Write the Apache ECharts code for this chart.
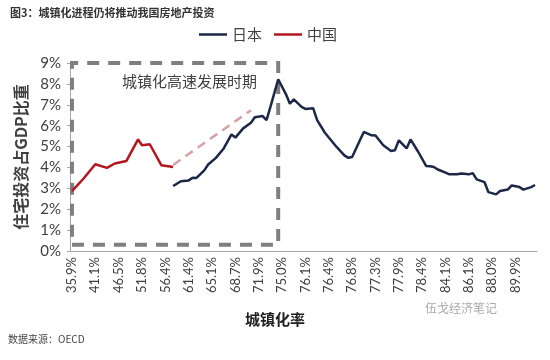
<!DOCTYPE html>
<html><head><meta charset="utf-8">
<script src="https://cdn.jsdelivr.net/npm/echarts@6/dist/echarts.min.js"></script>
<style>html,body{margin:0;padding:0;background:#fff}#c{width:550px;height:360px}</style>
</head><body><div id="c"></div>
<script>
// Tick labels shown on the category axis (every 6th category)
var tickLabels = ['35.9%','41.1%','46.5%','51.8%','56.4%','61.4%','65.1%','68.7%','71.9%','75.0%',
  '76.1%','76.4%','76.8%','77.3%','77.9%','78.4%','84.1%','86.1%','88.0%','89.9%'];
var categoryCount = 120;
var labelStep = 6;

// China: category index and housing investment share of GDP (%)
var chinaPos = [0,3,6,9,11,14,17,18,20,23,26];
var chinaVal = [2.87,3.47,4.15,3.98,4.19,4.31,5.34,5.06,5.11,4.10,4.02];

// Japan: category index and housing investment share of GDP (%)
var japanPos = [26,28,30,31,32,34,35,37,39,41,42,44,46,47,49,50,51,53,55,56,57,59,60,62,63,65,66,68,70,71,72,74,75,77,78,80,82,83,84,86,87,89,91,92,93,94,96,97,99,100,102,103,104,106,107,109,110,112,113,115,116,118,119];
var japanVal = [3.11,3.34,3.38,3.51,3.50,3.86,4.14,4.46,4.91,5.58,5.43,5.87,6.14,6.40,6.46,6.27,6.90,8.22,7.50,7.05,7.26,6.90,6.80,6.83,6.27,5.66,5.43,4.98,4.58,4.46,4.50,5.30,5.70,5.54,5.53,5.06,4.79,4.82,5.30,4.91,5.34,4.74,4.07,4.06,4.02,3.90,3.75,3.67,3.67,3.71,3.67,3.73,3.43,3.30,2.82,2.71,2.87,2.94,3.14,3.06,2.94,3.06,3.16];

// annotation box (category range and value range) and trend arrow
var boxX = [0, 53], boxY = [0.3, 9.15];
var trendStart = [26, 4.12], trendEnd = [46, 6.74];

var categories = [];
for (var i = 0; i < categoryCount; i++) {
  categories.push(i % labelStep === 0 ? tickLabels[i / labelStep] : '_' + i);
}
function pairs(p, v){ return p.map(function(x, k){ return [x, v[k]]; }); }

var chart = echarts.init(document.getElementById('c'));
var numFont = 'Lato, "Liberation Sans", sans-serif';
var cjk = '"Noto Sans CJK SC", sans-serif';
chart.setOption({
  animation: false,
  backgroundColor: '#fff',
  grid: {left: 70, right: 13, top: 63, bottom: 109},
  legend: {
    data: ['日本', '中国'], left: 194, top: 22, icon: 'rect', itemWidth: 28, itemHeight: 2.5, itemGap: 12,
    textStyle: {fontFamily: cjk, fontSize: 15, color: '#404040'}
  },
  xAxis: {
    type: 'category', data: categories, boundaryGap: true,
    axisLine: {lineStyle: {color: '#a6a6a6', width: 1}},
    axisTick: {interval: 0, length: 3, lineStyle: {color: '#a6a6a6'}},
    axisLabel: {interval: labelStep - 1, rotate: 90, fontFamily: numFont, fontSize: 13, color: '#404040', margin: 6,
      formatter: function(v){ return v.charAt(0) === '_' ? '' : v; }},
    splitLine: {show: false}
  },
  yAxis: {
    type: 'value', min: 0, max: 9, interval: 1,
    name: '住宅投资占GDP比重', nameLocation: 'middle', nameRotate: 90, nameGap: 35,
    nameTextStyle: {fontFamily: cjk, fontSize: 16, fontWeight: 'bold', color: '#404040'},
    axisLine: {show: true, lineStyle: {color: '#a6a6a6'}},
    axisTick: {show: true, length: 3, lineStyle: {color: '#a6a6a6'}},
    axisLabel: {formatter: '{value}%', fontFamily: numFont, fontSize: 15, color: '#404040', margin: 9},
    splitLine: {show: false}
  },
  series: [
    {
      name: '日本', type: 'line', data: pairs(japanPos, japanVal), connectNulls: true, showSymbol: false, clip: false,
      lineStyle: {color: '#1d2747', width: 2.5}, itemStyle: {color: '#1d2747'},
      markArea: {silent: true, itemStyle: {color: 'rgba(0,0,0,0)', borderColor: '#7f7f7f', borderWidth: 4, borderType: [12, 9]},
        data: [[{xAxis: boxX[0], yAxis: boxY[0]}, {xAxis: boxX[1], yAxis: boxY[1]}]]}
    },
    {
      name: '中国', type: 'line', data: pairs(chinaPos, chinaVal), connectNulls: true, showSymbol: false, clip: false,
      lineStyle: {color: '#b3161f', width: 2.5}, itemStyle: {color: '#b3161f'},
      markLine: {silent: true, symbol: ['none', 'none'], label: {show: false},
        lineStyle: {color: '#d9a0a6', width: 2.5, type: [9, 6]},
        data: [[{coord: trendStart}, {coord: trendEnd}]]}
    }
  ],
  graphic: [
    {type: 'text', left: 10, top: 7, style: {text: '图3：城镇化进程仍将推动我国房地产投资', fontFamily: cjk, fontSize: 11, fontWeight: 'bold', fill: '#333'}},
    {type: 'text', left: 122, top: 74, style: {text: '城镇化高速发展时期', fontFamily: cjk, fontSize: 15, fill: '#404040'}},
    {type: 'text', left: 245, top: 312, style: {text: '城镇化率', fontFamily: cjk, fontSize: 15, fontWeight: 'bold', fill: '#222'}},
    {type: 'text', left: 425, top: 302, style: {text: '伍戈经济笔记', fontFamily: cjk, fontSize: 12, fill: '#aaa'}},
    {type: 'text', left: 8, top: 334, style: {text: '数据来源：OECD', fontFamily: cjk, fontSize: 10, fill: '#444'}}
  ]
});
</script></body></html>
